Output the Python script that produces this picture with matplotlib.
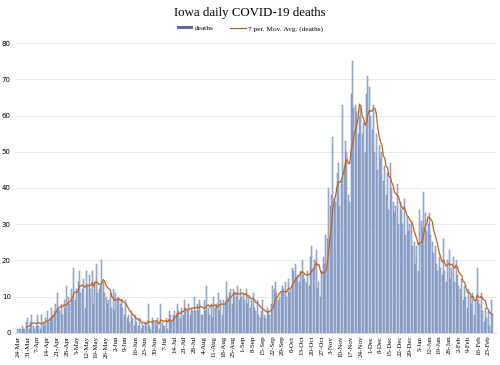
import pandas as pd
import matplotlib.pyplot as plt
from matplotlib.lines import Line2D
from matplotlib.patches import Patch

start_date = "2020-03-24"

# daily deaths, one row per week (Tue..Mon)
deaths = [
    1, 1, 1, 2, 1, 1, 3,
    4, 1, 3, 5, 2, 1, 2,
    5, 2, 1, 5, 3, 2, 4,
    6, 3, 4, 7, 5, 6, 8,
    11, 7, 6, 8, 5, 9, 7,
    13, 10, 8, 12, 9, 18, 9,
    12, 14, 17, 11, 12, 15, 7,
    17, 13, 16, 12, 17, 8, 14,
    19, 11, 12, 13, 20, 14, 11,
    10, 8, 9, 11, 7, 12, 6,
    11, 9, 10, 8, 9, 7, 5,
    9, 4, 5, 3, 6, 4, 2,
    5, 3, 2, 4, 1, 3, 2,
    3, 2, 8, 2, 1, 4, 3,
    3, 2, 4, 1, 8, 3, 2,
    2, 4, 1, 6, 5, 3, 5,
    6, 5, 8, 6, 4, 7, 5,
    9, 7, 6, 8, 5, 7, 6,
    10, 6, 8, 6, 9, 5, 5,
    9, 6, 13, 7, 5, 8, 4,
    10, 7, 8, 11, 6, 9, 5,
    9, 8, 14, 10, 11, 12, 8,
    12, 11, 10, 13, 9, 12, 10,
    11, 9, 12, 8, 10, 7, 9,
    11, 7, 6, 9, 5, 4, 6,
    9, 5, 4, 7, 6, 5, 8,
    13, 12, 14, 11, 9, 10, 11,
    13, 12, 14, 10, 15, 11, 12,
    18, 17, 19, 15, 16, 14, 17,
    20, 16, 15, 14, 17, 13, 21,
    24, 18, 20, 23, 12, 14, 10,
    17, 21, 19, 27, 26, 40, 35,
    38, 54, 37, 36, 44, 47, 35,
    42, 63, 46, 53, 50, 38, 36,
    66, 75, 62, 63, 61, 55, 60,
    62, 55, 58, 50, 66, 71, 68,
    60, 56, 63, 50, 55, 45, 52,
    48, 50, 42, 46, 38, 44, 34,
    47, 40, 36, 33, 35, 41, 30,
    36, 34, 30, 37, 27, 32, 28,
    30, 31, 24, 25, 19, 24, 17,
    34, 31, 29, 39, 33, 28, 30,
    33, 27, 25, 22, 24, 19, 17,
    21, 18, 16, 26, 17, 14, 20,
    23, 15, 18, 21, 14, 20, 16,
    13, 12, 15, 9, 13, 10, 7,
    12, 10, 8, 11, 5, 9, 18,
    9, 8, 11, 6, 3, 7, 4,
    6, 2, 9, 5,
]

df = pd.DataFrame({"deaths": deaths})
df["date"] = pd.date_range(start_date, periods=len(df), freq="D")
df["ma"] = df["deaths"].rolling(7).mean()

fig = plt.figure(figsize=(5, 3.65), dpi=100)
ax = fig.add_axes([0.03, 0.088, 0.964, 0.794])

x = range(len(df))
ax.bar(x, df["deaths"], width=0.72, color="#bcd1f1", edgecolor="#5b70a0",
       linewidth=0.3, zorder=2)
ax.plot(x, df["ma"], color="#c2621f", linewidth=0.9, zorder=3)

ax.set_ylim(0, 80)
ax.set_xlim(-2.1, 342.2)
ax.set_yticks(range(0, 81, 10))
ax.tick_params(axis="y", length=0, labelsize=5, pad=3)
ax.grid(axis="y", color="#e6e6e6", linewidth=0.6, zorder=0)
ax.set_axisbelow(True)

ticks = list(range(0, len(df), 7))
ax.set_xticks(ticks)
ax.set_xticklabels([f"{d.day}-{d.strftime('%b')}" for d in df["date"].iloc[ticks]],
                   rotation=90, fontsize=5, family="Liberation Serif")
ax.tick_params(axis="x", length=0, pad=2)

for s in ["top", "right", "left"]:
    ax.spines[s].set_visible(False)
ax.spines["bottom"].set_color("#d9d9d9")
ax.spines["bottom"].set_linewidth(0.6)

fig.text(0.5, 0.965, "Iowa daily COVID-19 deaths", ha="center", va="center",
         family="Liberation Serif", fontsize=9.3)

handles = [Patch(facecolor="#5b6d92", edgecolor="none"),
           Line2D([], [], color="#8a6a1c", linewidth=0.8)]
fig.legend(handles, ["deaths", "7 per. Mov. Avg. (deaths)"], loc="center",
           bbox_to_anchor=(0.5, 0.921), ncol=2, frameon=False,
           prop={"family": "Liberation Serif", "size": 5.3},
           handlelength=2.2, handleheight=0.35, columnspacing=2.2, handletextpad=0.3)

fig.savefig("out.png", dpi=100)
